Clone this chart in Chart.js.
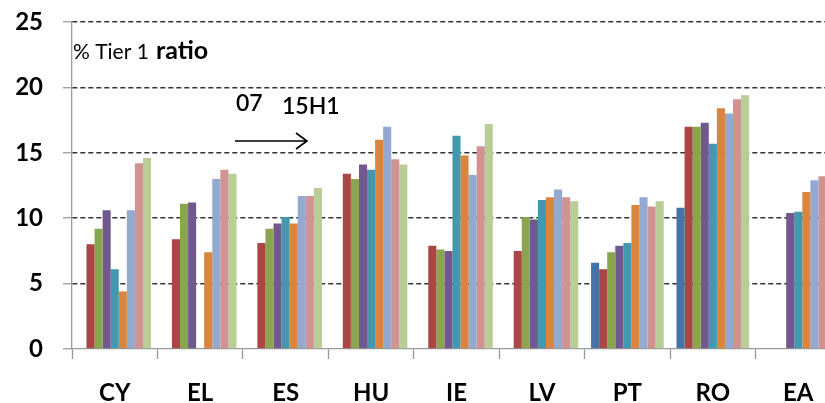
<!DOCTYPE html>
<html>
<head>
<meta charset="utf-8">
<script src="https://cdn.jsdelivr.net/npm/chart.js@4"></script>
<style>
  html, body { margin: 0; padding: 0; background: #fff; overflow: hidden; }
  #wrap { position: relative; width: 845px; height: 403px; }
</style>
</head>
<body>
<div id="wrap"><canvas id="tier1" width="845" height="403"></canvas></div>
<script>
// countries on the x axis
const countries = ['CY', 'EL', 'ES', 'HU', 'IE', 'LV', 'PT', 'RO', 'EA'];

// Tier 1 ratio (%) per year, one array per year
const y07   = [null, null, null, null, null, null, 6.6, 10.8, null];
const y08   = [8.0, 8.4, 8.1, 13.4, 7.9, 7.5, 6.1, 17.0, null];
const y09   = [9.2, 11.1, 9.2, 13.0, 7.6, 10.1, 7.4, 17.0, null];
const y10   = [10.6, 11.2, 9.6, 14.1, 7.5, 9.9, 7.9, 17.3, 10.4];
const y11   = [6.1, null, 10.1, 13.7, 16.3, 11.4, 8.1, 15.7, 10.5];
const y12   = [4.4, 7.4, 9.6, 16.0, 14.8, 11.6, 11.0, 18.4, 12.0];
const y13   = [10.6, 13.0, 11.7, 17.0, 13.3, 12.2, 11.6, 18.0, 12.9];
const y14   = [14.2, 13.7, 11.7, 14.5, 15.5, 11.6, 10.9, 19.1, 13.2];
const y15h1 = [14.6, 13.4, 12.3, 14.1, 17.2, 11.3, 11.3, 19.4, 13.4];

const yearNames = ['07', '08', '09', '10', '11', '12', '13', '14', '15H1'];
const yTicks = [0, 5, 10, 15, 20, 25];

const colours = ['#4572A7', '#AA4643', '#89A54E', '#71588F', '#4198AF',
                 '#DB843D', '#93A9CF', '#D19392', '#B9CD96'];

const series = [y07, y08, y09, y10, y11, y12, y13, y14, y15h1];

// free text and arrow drawn on top of the plot
const notes = {
    id: 'notes',
    afterDraw(chart) {
        const c = chart.ctx;
        c.save();
        c.fillStyle = '#000';
        c.textBaseline = 'alphabetic';
        c.font = '21px Lato';
        c.fillText('% Tier 1', 73, 59);
        c.font = 'bold 25px Lato';
        c.fillText('ratio', 156, 59);
        c.font = '600 23px Lato';
        c.fillText('07', 236, 111);
        c.fillText('15H1', 282, 114);
        // arrow
        c.strokeStyle = '#000';
        c.lineWidth = 1.6;
        c.beginPath();
        c.moveTo(235, 141);
        c.lineTo(307, 141);
        c.moveTo(296, 133);
        c.lineTo(307, 141);
        c.lineTo(296, 149);
        c.stroke();
        c.restore();
    }
};

new Chart(document.getElementById('tier1'), {
    type: 'bar',
    data: {
        labels: countries,
        datasets: series.map((vals, i) => ({
            label: yearNames[i],
            data: vals,
            backgroundColor: colours[i],
            borderWidth: 0
        }))
    },
    options: {
        responsive: false,
        animation: false,
        layout: { padding: { top: 22, right: 4, left: 0, bottom: 0 } },
        datasets: {
            bar: { categoryPercentage: 0.85, barPercentage: 1.0 }
        },
        plugins: {
            legend: { display: false },
            tooltip: { enabled: false }
        },
        scales: {
            x: {
                grid: {
                    offset: true,
                    drawOnChartArea: false,
                    tickLength: 10,
                    tickColor: '#9a9a9a',
                    tickWidth: 1.3
                },
                border: { color: '#9a9a9a', width: 1.3 },
                ticks: {
                    color: '#000',
                    padding: 20,
                    font: { family: 'Lato', size: 24, weight: 'bold' }
                },
                afterFit(scale) { scale.height = 54; }
            },
            y: {
                min: 0,
                max: 25,
                afterBuildTicks(scale) {
                    scale.ticks = yTicks.map(v => ({ value: v }));
                },
                grid: {
                    color: ctx => (ctx.tick && ctx.tick.value === 0) ? 'rgba(0,0,0,0)' : '#333',
                    lineWidth: 1.5,
                    tickLength: 9,
                    tickColor: '#9a9a9a',
                    tickWidth: 1.3,
                    tickBorderDash: []
                },
                border: { color: '#9a9a9a', width: 1.3, dash: [5, 3] },
                ticks: {
                    color: '#000',
                    padding: 20,
                    font: { family: 'Lato', size: 24, weight: 'bold' }
                },
                afterFit(scale) {
                    scale.width = 72;
                    scale.paddingTop = 0;
                    scale.paddingBottom = 0;
                }
            }
        }
    },
    plugins: [notes]
});
</script>
</body>
</html>
